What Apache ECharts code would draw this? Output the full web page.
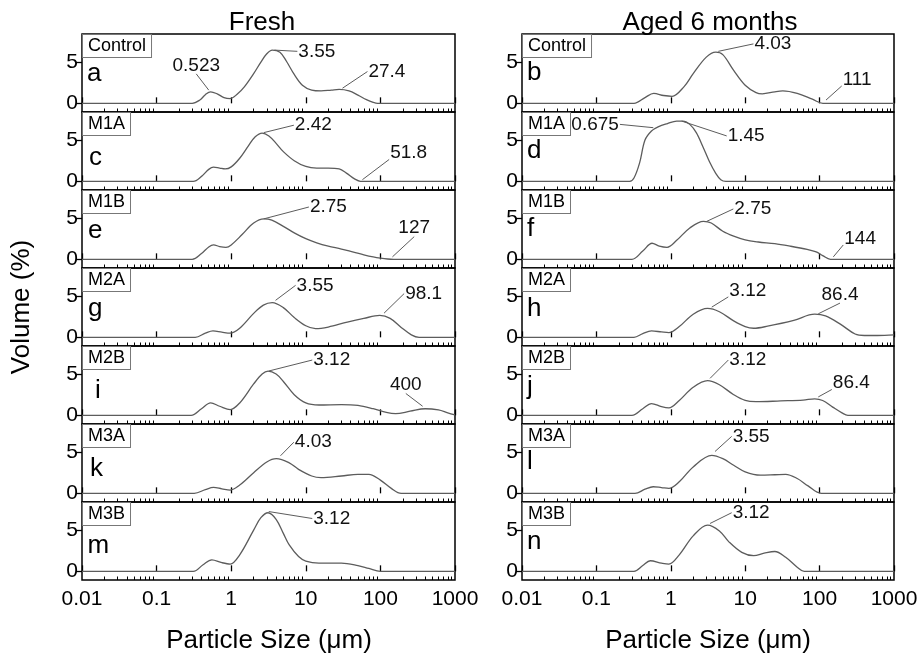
<!DOCTYPE html>
<html><head><meta charset="utf-8">
<script src="https://cdn.jsdelivr.net/npm/echarts@6/dist/echarts.min.js"></script>
<style>html,body{margin:0;padding:0;background:#fff}#c{width:922px;height:657px}</style>
</head><body><div id="c"></div>
<script>
// ---------- data ----------
const decades = [0.01, 0.1, 1, 10, 100, 1000];
const xTickLabels = ['0.01', '0.1', '1', '10', '100', '1000'];
const yTicks = [0, 5];
const panelNames = ['Control', 'M1A', 'M1B', 'M2A', 'M2B', 'M3A', 'M3B'];
const leftLetters = ['a', 'c', 'e', 'g', 'i', 'k', 'm'];
const rightLetters = ['b', 'd', 'f', 'h', 'j', 'l', 'n'];
const columnTitles = ['Fresh', 'Aged 6 months'];

// Fresh
const x_a = [0.01, 0.3, 0.38, 0.45, 0.53, 0.65, 0.8, 0.97, 1.2, 1.5, 2, 2.5, 3, 3.55, 4.5, 5.5, 7, 9, 12, 16, 22, 28, 38, 50, 65, 80, 92, 1000];
const y_a = [0, 0, 0.4, 1.05, 1.4, 1.15, 0.7, 0.58, 1.1, 2.0, 3.6, 5.0, 6.0, 6.45, 6.2, 5.1, 3.5, 2.2, 1.6, 1.5, 1.6, 1.68, 1.5, 1.0, 0.45, 0.12, 0, 0];
const x_c = [0.01, 0.31, 0.4, 0.5, 0.58, 0.7, 0.83, 1, 1.3, 1.7, 2.1, 2.6, 3.2, 4, 5, 7, 10, 14, 20, 28, 35, 45, 54, 1000];
const y_c = [0, 0, 0.6, 1.45, 1.72, 1.6, 1.5, 1.75, 2.8, 4.3, 5.4, 5.85, 5.5, 4.6, 3.6, 2.5, 1.8, 1.6, 1.6, 1.5, 1.0, 0.3, 0, 0];
const x_e = [0.01, 0.3, 0.4, 0.5, 0.58, 0.7, 0.85, 1, 1.4, 2, 2.75, 3.5, 5, 7, 10, 14, 20, 30, 40, 60, 80, 100, 125, 150, 1000];
const y_e = [0, 0, 0.7, 1.5, 1.75, 1.55, 1.46, 1.75, 3.0, 4.4, 4.9, 4.75, 4.0, 3.2, 2.5, 2.0, 1.6, 1.25, 0.95, 0.55, 0.3, 0.15, 0.04, 0, 0];
const x_g = [0.01, 0.33, 0.45, 0.57, 0.75, 0.97, 1.3, 2, 2.7, 3.55, 5, 7, 10, 13.5, 20, 36, 60, 98, 135, 190, 260, 330, 1000];
const y_g = [0, 0, 0.5, 0.78, 0.62, 0.5, 1.1, 2.9, 3.9, 4.2, 3.6, 2.4, 1.4, 1.05, 1.25, 1.85, 2.3, 2.65, 2.3, 1.2, 0.3, 0, 0];
const x_i = [0.01, 0.29, 0.4, 0.53, 0.7, 0.97, 1.3, 2, 2.6, 3.12, 4, 5, 7, 10, 15, 30, 50, 80, 120, 160, 250, 400, 600, 800, 1000];
const y_i = [0, 0, 0.8, 1.5, 1.1, 0.7, 1.5, 3.8, 5.0, 5.35, 5.0, 4.1, 2.5, 1.5, 1.25, 1.3, 1.2, 0.8, 0.35, 0.2, 0.5, 0.8, 0.65, 0.3, 0.05];
const x_k = [0.01, 0.32, 0.45, 0.58, 0.75, 0.97, 1.3, 2, 3, 4.03, 6, 8, 12, 16, 30, 50, 70, 100, 140, 190, 1000];
const y_k = [0, 0, 0.45, 0.72, 0.55, 0.4, 1.0, 2.5, 3.8, 4.2, 3.7, 2.9, 2.1, 1.9, 2.1, 2.3, 2.3, 1.6, 0.6, 0, 0];
const x_m = [0.01, 0.31, 0.42, 0.55, 0.75, 0.97, 1.3, 2, 2.5, 3.12, 4, 5, 6, 8, 10, 15, 30, 50, 70, 100, 1000];
const y_m = [0, 0, 0.8, 1.4, 1.05, 0.88, 2.0, 5.0, 6.5, 7.1, 6.3, 4.6, 3.2, 1.8, 1.25, 1.0, 1.0, 0.7, 0.35, 0, 0];
// Aged 6 months
const x_b = [0.01, 0.32, 0.45, 0.59, 0.8, 1.04, 1.5, 2, 3, 4.03, 5, 7, 10, 14, 17, 25, 32, 50, 80, 111, 1000];
const y_b = [0, 0, 0.7, 1.2, 0.95, 0.85, 2.0, 3.6, 5.6, 6.2, 5.9, 4.0, 2.2, 1.3, 1.15, 1.4, 1.5, 1.2, 0.5, 0, 0];
const x_d = [0.01, 0.28, 0.32, 0.38, 0.45, 0.55, 0.675, 0.9, 1.2, 1.45, 1.8, 2.2, 2.7, 3.3, 4, 4.7, 5.5, 1000];
const y_d = [0, 0, 0.4, 2.2, 5.0, 6.1, 6.6, 7.0, 7.3, 7.3, 6.9, 5.9, 4.2, 2.4, 1.0, 0.2, 0, 0];
const x_f = [0.01, 0.3, 0.42, 0.56, 0.7, 0.89, 1.2, 1.8, 2.75, 3.5, 5, 7, 10, 15, 25, 40, 68, 90, 110, 140, 1000];
const y_f = [0, 0, 1.0, 1.95, 1.6, 1.46, 2.3, 3.8, 4.6, 4.4, 3.4, 2.8, 2.35, 2.1, 1.9, 1.6, 1.2, 0.9, 0.45, 0, 0];
const x_h = [0.01, 0.32, 0.42, 0.55, 0.75, 0.94, 1.3, 2, 3.12, 4.5, 7, 10, 13, 20, 45, 86, 120, 190, 300, 400, 600, 1000];
const y_h = [0, 0, 0.45, 0.78, 0.65, 0.57, 1.3, 2.8, 3.5, 3.1, 2.0, 1.3, 1.1, 1.35, 2.05, 2.8, 2.6, 1.6, 0.4, 0.22, 0.22, 0.3];
const x_j = [0.01, 0.3, 0.42, 0.55, 0.75, 0.94, 1.3, 2, 3.12, 4.5, 7, 10, 14, 30, 60, 86, 110, 150, 200, 240, 1000];
const y_j = [0, 0, 0.8, 1.43, 1.05, 0.9, 1.8, 3.4, 4.2, 3.7, 2.5, 1.8, 1.65, 1.75, 1.85, 2.0, 1.8, 1.0, 0.3, 0, 0];
const x_l = [0.01, 0.33, 0.45, 0.58, 0.75, 0.94, 1.3, 2, 3.55, 5, 7, 10, 16, 25, 35, 50, 70, 105, 1000];
const y_l = [0, 0, 0.5, 0.8, 0.7, 0.6, 1.4, 3.2, 4.6, 4.2, 3.4, 2.6, 2.2, 2.25, 2.3, 1.8, 0.9, 0, 0];
const x_n = [0.01, 0.32, 0.42, 0.53, 0.75, 0.94, 1.3, 2, 3.12, 4.5, 6, 9, 13, 18, 25, 35, 50, 62, 1000];
const y_n = [0, 0, 0.7, 1.28, 1.0, 0.88, 2.0, 4.3, 5.6, 4.9, 3.6, 2.3, 1.9, 2.2, 2.4, 1.7, 0.5, 0, 0];

// annotations: [curve x, curve y, text x, text y, text, placement]
const ann_a = [[0.5, 1.6, 0.34, 3.57, '0.523', 'top'], [3.8, 6.45, 7.7, 6.3, '3.55', 'right'], [31, 1.83, 67, 3.85, '27.4', 'right']];
const ann_c = [[2.73, 5.9, 6.92, 6.8, '2.42', 'right'], [57.4, 0.2, 131, 2.65, '51.8', 'rtop']];
const ann_e = [[2.73, 4.9, 11.0, 6.34, '2.75', 'right'], [145, 0.3, 284, 2.75, '127', 'top']];
const ann_g = [[3.93, 4.48, 7.3, 6.3, '3.55', 'right'], [112, 2.93, 208, 5.3, '98.1', 'right']];
const ann_i = [[3.19, 5.37, 12.2, 6.7, '3.12', 'right'], [368, 1.1, 219, 2.65, '400', 'top']];
const ann_k = [[4.58, 4.55, 6.92, 6.2, '4.03', 'right']];
const ann_m = [[3.19, 7.24, 12.2, 6.4, '3.12', 'right']];
const ann_b = [[4.35, 6.3, 12.9, 7.2, '4.03', 'right'], [122, 0.4, 198, 2.1, '111', 'rtop']];
const ann_d = [[0.582, 6.5, 0.207, 6.9, '0.675', 'left'], [1.40, 7.3, 5.64, 5.5, '1.45', 'right']];
const ann_f = [[3.04, 4.6, 6.92, 6.1, '2.75', 'right'], [153, 0.3, 208, 1.74, '144', 'rtop']];
const ann_h = [[3.55, 3.66, 5.93, 4.9, '3.12', 'rtop'], [96, 2.85, 188, 4.15, '86.4', 'top']];
const ann_j = [[3.37, 4.48, 5.93, 6.7, '3.12', 'right'], [96, 2.23, 146, 3.13, '86.4', 'rtop']];
const ann_l = [[3.93, 5.07, 6.58, 6.9, '3.55', 'right']];
const ann_n = [[3.37, 5.8, 6.58, 7.1, '3.12', 'right']];

const leftSeries = [[x_a, y_a, ann_a], [x_c, y_c, ann_c], [x_e, y_e, ann_e], [x_g, y_g, ann_g], [x_i, y_i, ann_i], [x_k, y_k, ann_k], [x_m, y_m, ann_m]];
const rightSeries = [[x_b, y_b, ann_b], [x_d, y_d, ann_d], [x_f, y_f, ann_f], [x_h, y_h, ann_h], [x_j, y_j, ann_j], [x_l, y_l, ann_l], [x_n, y_n, ann_n]];

// ---------- layout ----------
const FONT = '"Liberation Sans", Arial, sans-serif';
const colLeft = [82, 522], colWidth = [373, 372];
const top0 = 34, rowH = 78;
const letterDx = [[5, 7, 6, 6, 13, 8, 5.5], [5, 5, 5, 5, 5, 5, 5]];
const letterDy = [[40.3, 45.7, 41, 41.3, 45, 45, 44], [38.7, 39, 39.3, 40.7, 41, 37.7, 39.7]];
const minorTicks = [];
decades.slice(0, -1).forEach(d => { for (let m = 2; m <= 9; m++) minorTicks.push(+(d * m).toPrecision(3)); });

const grids = [], xAxes = [], yAxes = [], series = [], graphics = [];
const curveColor = '#5c5c5c';

function labelCfg(text, place) {
  const base = { show: true, position: 'inside', formatter: text, fontSize: 19, fontFamily: FONT, color: '#111' };
  if (place === 'right') return Object.assign(base, { align: 'left', verticalAlign: 'middle', offset: [1, 0] });
  if (place === 'left') return Object.assign(base, { align: 'right', verticalAlign: 'middle', offset: [-1, 0] });
  if (place === 'top') return Object.assign(base, { align: 'center', verticalAlign: 'bottom', offset: [0, 1] });
  return Object.assign(base, { align: 'left', verticalAlign: 'bottom', offset: [1, 3] });
}

[leftSeries, rightSeries].forEach((col, c) => {
  col.forEach((s, r) => {
    const gi = grids.length;
    const top = top0 + r * rowH;
    const isBottom = r === 6;
    grids.push({ left: colLeft[c], top: top, width: colWidth[c], height: rowH, show: true,
      borderColor: '#000', borderWidth: 1.5, backgroundColor: 'transparent', containLabel: false, outerBoundsMode: 'none' });
    xAxes.push({ type: 'log', logBase: 10, gridIndex: gi, min: 0.01, max: 1000, position: 'bottom',
      axisLine: { show: false }, splitLine: { show: false }, minorTick: { show: false },
      axisTick: { show: true, inside: true, length: 6, customValues: decades, lineStyle: { color: '#000', width: 1.3 } },
      axisLabel: { show: isBottom, customValues: decades, fontSize: 21, fontFamily: FONT, color: '#000', margin: 9,
        formatter: v => xTickLabels[Math.round(Math.log10(v)) + 2] } });
    xAxes.push({ type: 'log', logBase: 10, gridIndex: gi, min: 0.01, max: 1000, position: 'bottom',
      axisLine: { show: false }, splitLine: { show: false }, axisLabel: { show: false },
      axisTick: { show: true, inside: true, length: 3.5, customValues: minorTicks, lineStyle: { color: '#000', width: 1 } } });
    yAxes.push({ type: 'value', gridIndex: gi, min: -1.05, max: 8.4,
      axisLine: { show: false }, splitLine: { show: false },
      axisTick: { show: true, inside: false, length: 6, customValues: yTicks, lineStyle: { color: '#000', width: 1.3 } },
      axisLabel: { customValues: yTicks, fontSize: 21, fontFamily: FONT, color: '#000', margin: 4 } });
    const [xs, ys, ann] = s;
    series.push({
      type: 'line', xAxisIndex: gi * 2, yAxisIndex: gi, data: xs.map((x, i) => [x, ys[i]]),
      smooth: 0.35, showSymbol: false, symbol: 'none', silent: true, animation: false,
      lineStyle: { color: curveColor, width: 1.3 },
      markLine: { silent: true, animation: false, symbol: ['none', 'none'], label: { show: false },
        lineStyle: { color: curveColor, width: 1, type: 'solid' },
        data: ann.map(a => [{ coord: [a[0], a[1]] }, { coord: [a[2], a[3]] }]) },
      markPoint: { silent: true, animation: false, symbol: 'circle', symbolSize: 0,
        itemStyle: { color: 'rgba(0,0,0,0)' },
        data: ann.map(a => ({ coord: [a[2], a[3]], value: a[4], label: labelCfg(a[4], a[5]) })) }
    });
    // panel name box
    graphics.push({ type: 'text', left: colLeft[c] , top: top, z: 10,
      style: { text: panelNames[r], fontSize: 18, fontFamily: FONT, fill: '#000',
        backgroundColor: '#fff', borderColor: '#777', borderWidth: 1, padding: [2, 5, 1, 5], lineHeight: 19 } });
    // panel letter
    graphics.push({ type: 'text', x: colLeft[c] + letterDx[c][r], y: top + letterDy[c][r], z: 10,
      style: { text: (c === 0 ? leftLetters : rightLetters)[r], fontSize: 26, fontFamily: FONT, fill: '#000',
        align: 'left', verticalAlign: 'middle' } });
  });
  // column title
  graphics.push({ type: 'text', x: c === 0 ? 262 : 710, y: 23, style: { text: columnTitles[c], fontSize: 26,
    fontFamily: FONT, fill: '#000', align: 'center', verticalAlign: 'middle' } });
  // x axis name
  graphics.push({ type: 'text', x: c === 0 ? 269 : 708, y: 641, style: { text: 'Particle Size (\u03bcm)', fontSize: 26,
    fontFamily: FONT, fill: '#000', align: 'center', verticalAlign: 'middle' } });
});
graphics.push({ type: 'text', x: 22, y: 307, rotation: Math.PI / 2, style: { text: 'Volume (%)', fontSize: 26,
  fontFamily: FONT, fill: '#000', align: 'center', verticalAlign: 'middle' } });

const chart = echarts.init(document.getElementById('c'), null, { renderer: 'canvas' });
chart.setOption({ animation: false, backgroundColor: '#fff', grid: grids, xAxis: xAxes, yAxis: yAxes, series: series, graphic: graphics });
</script></body></html>
